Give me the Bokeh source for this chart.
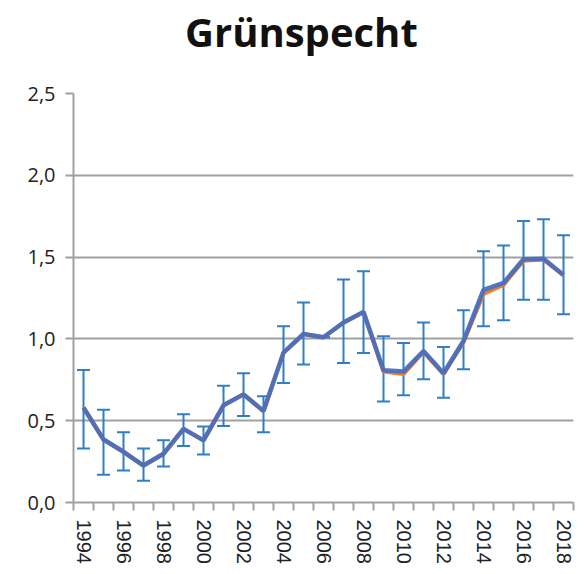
from bokeh.plotting import figure
from bokeh.models import Range1d, FixedTicker, Whisker, TeeHead, ColumnDataSource, Div
from bokeh.layouts import column
from bokeh.embed import file_html
from bokeh.resources import INLINE

years = list(range(1994, 2019))
index_blue = [0.58, 0.385, 0.31, 0.226, 0.298, 0.45, 0.38, 0.594, 0.661, 0.559,
              0.916, 1.03, 1.01, 1.10, 1.165, 0.808, 0.80, 0.926, 0.79, 0.987,
              1.30, 1.342, 1.487, 1.49, 1.39]
index_orange = [0.58, 0.385, 0.31, 0.226, 0.298, 0.45, 0.38, 0.594, 0.661, 0.559,
                0.916, 1.03, 1.01, 1.10, 1.165, 0.80, 0.785, 0.92, 0.785, 0.98,
                1.275, 1.33, 1.478, 1.485, 1.39]
upper = [0.81, 0.567, 0.43, 0.33, 0.38, 0.54, 0.465, 0.714, 0.79, 0.65,
         1.077, 1.222, 1.01, 1.363, 1.414, 1.016, 0.975, 1.10, 0.95, 1.175,
         1.536, 1.571, 1.72, 1.732, 1.634]
lower = [0.33, 0.17, 0.196, 0.133, 0.22, 0.345, 0.294, 0.467, 0.528, 0.43,
         0.73, 0.843, 1.01, 0.853, 0.914, 0.618, 0.655, 0.753, 0.64, 0.814,
         1.077, 1.114, 1.24, 1.24, 1.15]
y_ticks = [0.0, 0.5, 1.0, 1.5, 2.0, 2.5]
y_tick_labels = ["0,0", "0,5", "1,0", "1,5", "2,0", "2,5"]
title_text = "Grünspecht"

title_div = Div(
    text=('<div style="font-family:\'Open Sans\';font-weight:bold;font-size:40px;'
          'line-height:40px;color:#111111;margin-left:185px;margin-top:12px;'
          'white-space:nowrap">' + title_text + '</div>'),
    width=577, height=60, margin=(0, 0, 0, 0))

p = figure(width=577, height=514, output_backend="svg", toolbar_location=None,
           x_range=Range1d(years[0] - 0.5, years[-1] + 0.5),
           y_range=Range1d(y_ticks[0], y_ticks[-1]),
           min_border_left=73, min_border_right=4, min_border_top=33, min_border_bottom=72,
           margin=(0, 0, 0, 0))
p.outline_line_color = None
p.background_fill_color = "white"
p.border_fill_color = "white"

grid_col = "#9f9f9f"
p.xgrid.visible = False
p.ygrid.ticker = FixedTicker(ticks=y_ticks)
p.ygrid.grid_line_color = grid_col
p.ygrid.grid_line_width = 2

# y axis
p.yaxis.ticker = FixedTicker(ticks=y_ticks)
p.yaxis.major_label_overrides = {t: l for t, l in zip(y_ticks, y_tick_labels)}
p.yaxis.axis_line_color = grid_col
p.yaxis.axis_line_width = 2
p.yaxis.major_tick_line_color = grid_col
p.yaxis.major_tick_line_width = 2
p.yaxis.major_tick_in = 0
p.yaxis.major_tick_out = 8
p.yaxis.minor_tick_line_color = None
p.yaxis.major_label_standoff = 10
p.yaxis.major_label_text_font = "Open Sans"
p.yaxis.major_label_text_font_size = "20px"
p.yaxis.major_label_text_color = "#222222"

# x axis
label_years = years[::2]
p.xaxis.ticker = FixedTicker(ticks=label_years, minor_ticks=[y - 0.5 for y in years] + [years[-1] + 0.5])
p.xaxis.axis_line_color = grid_col
p.xaxis.axis_line_width = 2
p.xaxis.major_tick_line_color = None
p.xaxis.major_tick_in = 0
p.xaxis.major_tick_out = 8
p.xaxis.minor_tick_line_color = grid_col
p.xaxis.minor_tick_line_width = 2
p.xaxis.minor_tick_in = 0
p.xaxis.minor_tick_out = 8
p.xaxis.major_label_orientation = "vertical"
p.xaxis.major_label_standoff = 9
p.xaxis.major_label_text_font = "Liberation Sans"
p.xaxis.major_label_text_font_size = "20px"
p.xaxis.major_label_text_color = "#222222"

src = ColumnDataSource(dict(x=years, yb=index_blue, yo=index_orange, up=upper, lo=lower))

p.line("x", "yo", source=src, line_color="#ed7d31", line_width=4)
p.line("x", "yb", source=src, line_color="#4a6fbd", line_width=4.5, line_alpha=0.95)

err_col = "#2f7fc7"
w = Whisker(base="x", upper="up", lower="lo", source=src, line_color=err_col, line_width=2,
            upper_head=TeeHead(size=13, line_color=err_col, line_width=2),
            lower_head=TeeHead(size=13, line_color=err_col, line_width=2))
p.add_layout(w)

layout = column(title_div, p, spacing=0, margin=(0, 0, 0, 0))
open("out.html", "w").write(file_html(layout, INLINE))
